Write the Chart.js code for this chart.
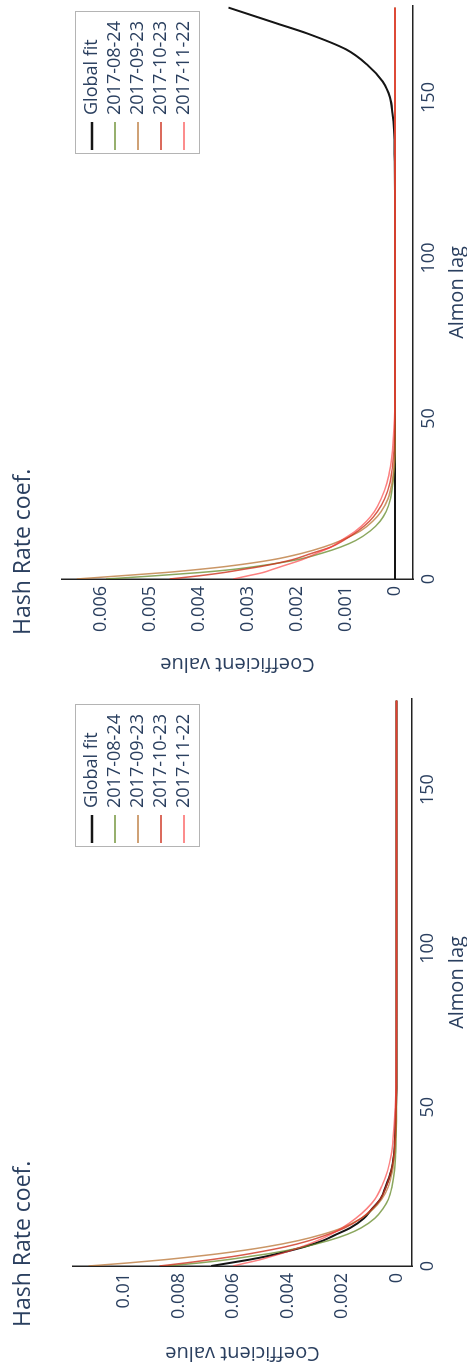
<!DOCTYPE html>
<html>
<head>
<meta charset="utf-8">
<script src="https://cdn.jsdelivr.net/npm/chart.js@4.4.1/dist/chart.umd.min.js"></script>
<style>
  html, body { margin: 0; padding: 0; background: #fff; overflow: hidden; }
  /* the two plots sit side by side, then the whole strip is turned a quarter left */
  #page { position: absolute; left: 0; top: 0; width: 1370px; height: 467px;
          transform-origin: 0 0; transform: translate(0, 1370px) rotate(-90deg); }
  #page canvas { position: absolute; top: 0; }
</style>
</head>
<body>
<div id="page">
  <canvas id="left" width="685" height="467" style="left:0"></canvas>
  <canvas id="right" width="685" height="467" style="left:685px"></canvas>
</div>
<script>
const lags = [0, 1, 2, 3, 4, 6, 8, 10, 12, 15, 18, 21, 25, 30, 35, 40, 50, 60, 80, 100, 120, 130, 140, 145, 150, 155, 160, 165, 170, 173, 175, 178];

const seriesNames = ['Global fit', '2017-08-24', '2017-09-23', '2017-10-23', '2017-11-22'];
const seriesColors = ['#151515', 'rgba(100,138,40,0.75)', 'rgba(184,115,51,0.75)', 'rgba(205,50,30,0.8)', 'rgba(250,60,60,0.65)'];
const seriesWidths = [2, 1.5, 1.5, 1.5, 1.5];

const xTicks = [0, 50, 100, 150];
const yTicksLeft = [0, 0.002, 0.004, 0.006, 0.008, 0.01];
const yTicksRight = [0, 0.001, 0.002, 0.003, 0.004, 0.005, 0.006];

// left panel
const globalFitL = [0.0068, 0.0061, 0.0054, 0.0048, 0.0043, 0.0034, 0.0027, 0.0022, 0.0017, 0.0012, 0.0009, 0.0006, 0.0004, 0.0002, 0.0001, 0.00006, 0.00002, 0, 0, 0, 0, 0, 0, 0, 0, 0, 0, 0, 0, 0, 0, 0];
const aug24L = [0.0084, 0.0072, 0.0062, 0.0054, 0.0046, 0.0034, 0.0025, 0.0018, 0.0013, 0.0008, 0.0005, 0.0003, 0.00017, 0.00008, 0.00004, 0.00002, 0, 0, 0, 0, 0, 0, 0, 0, 0, 0, 0, 0, 0, 0, 0, 0];
const sep23L = [0.0113, 0.0098, 0.0085, 0.0074, 0.0064, 0.0048, 0.0036, 0.0027, 0.0020, 0.0013, 0.00085, 0.00055, 0.0003, 0.00015, 0.00008, 0.00004, 0.00001, 0, 0, 0, 0, 0, 0, 0, 0, 0, 0, 0, 0, 0, 0, 0];
const oct23L = [0.0087, 0.0077, 0.0068, 0.0060, 0.0053, 0.0041, 0.0032, 0.0025, 0.0019, 0.0013, 0.0009, 0.0006, 0.00038, 0.0002, 0.0001, 0.00006, 0.00002, 0, 0, 0, 0, 0, 0, 0, 0, 0, 0, 0, 0, 0, 0, 0];
const nov22L = [0.0060, 0.0055, 0.0050, 0.0046, 0.0042, 0.0035, 0.0029, 0.0024, 0.0020, 0.0015, 0.0011, 0.0008, 0.00055, 0.00033, 0.0002, 0.00013, 0.00005, 0.00002, 0, 0, 0, 0, 0, 0, 0, 0, 0, 0, 0, 0, 0, 0];

// right panel
const globalFitR = [0, 0, 0, 0, 0, 0, 0, 0, 0, 0, 0, 0, 0, 0, 0, 0, 0, 0, 0, 0, 0, 0.000005, 0.00002, 0.00005, 0.0001, 0.00025, 0.00055, 0.001, 0.0018, 0.0024, 0.0028, 0.0034];
const aug24R = [0.0059, 0.0049, 0.0040, 0.0033, 0.0028, 0.0020, 0.0015, 0.0011, 0.0008, 0.0005, 0.0003, 0.00018, 0.00009, 0.00004, 0.00001, 0, 0, 0, 0, 0, 0, 0, 0, 0, 0, 0, 0, 0, 0, 0, 0, 0];
const sep23R = [0.0065, 0.0056, 0.0047, 0.0040, 0.0034, 0.0025, 0.0019, 0.00145, 0.0011, 0.0007, 0.00045, 0.00028, 0.00014, 0.00006, 0.00002, 0, 0, 0, 0, 0, 0, 0, 0, 0, 0, 0, 0, 0, 0, 0, 0, 0];
const oct23R = [0.0046, 0.0040, 0.0035, 0.0031, 0.0027, 0.0021, 0.0017, 0.0013, 0.00105, 0.00075, 0.00052, 0.00036, 0.00021, 0.0001, 0.00005, 0.00002, 0, 0, 0, 0, 0, 0, 0, 0, 0, 0, 0, 0, 0, 0, 0, 0];
const nov22R = [0.0033, 0.0030, 0.0027, 0.0025, 0.0023, 0.0019, 0.0016, 0.0013, 0.0011, 0.0008, 0.00058, 0.00042, 0.00028, 0.00016, 0.00009, 0.00005, 0.00001, 0, 0, 0, 0, 0, 0, 0, 0, 0, 0, 0, 0, 0, 0, 0];

const textColor = '#2a3f5f';
const axisColor = '#222';
const family = '"Open Sans", Verdana, Arial, sans-serif';

// title + boxed legend inside the plot, plotly style
const overlay = {
    id: 'overlay',
    afterDraw(chart, args, opts) {
        const ctx = chart.ctx;
        ctx.save();
        ctx.fillStyle = textColor;
        ctx.font = '23px ' + family;
        ctx.textBaseline = 'alphabetic';
        ctx.fillText('Hash Rate coef.', opts.titleX, 30);

        const bx = opts.legendX, by = 75, bw = 142, bh = 124;
        ctx.fillStyle = '#fff';
        ctx.fillRect(bx, by, bw, bh);
        ctx.strokeStyle = '#b4b4b4';
        ctx.lineWidth = 1;
        ctx.strokeRect(bx + 0.5, by + 0.5, bw, bh);
        ctx.font = '18px ' + family;
        ctx.textBaseline = 'middle';
        chart.data.datasets.forEach((ds, i) => {
            const y = by + 17 + i * 23;
            ctx.strokeStyle = ds.borderColor;
            ctx.lineWidth = i == 0 ? 2.5 : 1.8;
            ctx.beginPath();
            ctx.moveTo(bx + 4, y);
            ctx.lineTo(bx + 32, y);
            ctx.stroke();
            ctx.fillStyle = textColor;
            ctx.fillText(ds.label, bx + 39, y);
        });
        ctx.restore();
    }
};

const makeChart = (id, series, opt) => {
    const ctx = document.getElementById(id).getContext('2d');
    return new Chart(ctx, {
        type: 'line',
        data: {
            datasets: series.map((vals, i) => ({
                label: seriesNames[i],
                data: lags.map((lag, j) => ({x: lag, y: vals[j]})),
                borderColor: seriesColors[i],
                borderWidth: seriesWidths[i],
                pointRadius: 0,
                fill: false,
                cubicInterpolationMode: 'monotone',
                order: series.length - i
            }))
        },
        options: {
            responsive: false,
            animation: false,
            devicePixelRatio: 1,
            layout: {padding: opt.padding},
            plugins: {
                legend: {display: false},
                tooltip: {enabled: false},
                overlay: {titleX: opt.titleX, legendX: opt.legendX}
            },
            scales: {
                x: {
                    type: 'linear',
                    min: 0,
                    max: 178.5,
                    afterFit: s => { s.height = opt.xHeight; },
                    afterBuildTicks: s => { s.ticks = xTicks.map(v => ({value: v})); },
                    grid: {display: false, drawTicks: false},
                    border: {color: axisColor, width: 1.5},
                    ticks: {color: textColor, font: {family: family, size: 18}, padding: 5, maxRotation: 0},
                    title: {display: true, text: 'Almon lag', color: textColor,
                        font: {family: family, size: 20, lineHeight: 1}, padding: {top: 0, bottom: 0}}
                },
                y: {
                    type: 'linear',
                    min: opt.yMin,
                    max: opt.yMax,
                    afterFit: s => { s.width = opt.yWidth; },
                    afterBuildTicks: s => { s.ticks = opt.yTicks.map(v => ({value: v})); },
                    grid: {display: false, drawTicks: false},
                    border: {color: axisColor, width: 1.5},
                    ticks: {color: textColor, font: {family: family, size: 18}, padding: 7,
                        callback: v => String(v)},
                    title: {display: true, text: 'Coefficient value', color: textColor,
                        font: {family: family, size: 20}, padding: {top: opt.yTitlePad, bottom: 0}}
                }
            }
        },
        plugins: [overlay]
    });
};

makeChart('left', [globalFitL, aug24L, sep23L, oct23L, nov22L], {
    padding: {left: 0, right: 14, top: 73, bottom: 0},
    yWidth: 104, xHeight: 55,
    yMin: -0.000565, yMax: 0.01187, yTicks: yTicksLeft,
    yTitlePad: 5, titleX: 43, legendX: 523
});

makeChart('right', [globalFitR, aug24R, sep23R, oct23R, nov22R], {
    padding: {left: 0, right: 6, top: 62, bottom: 0},
    yWidth: 106, xHeight: 54,
    yMin: -0.00037, yMax: 0.0068, yTicks: yTicksRight,
    yTitlePad: 9, titleX: 50, legendX: 531
});
</script>
</body>
</html>
